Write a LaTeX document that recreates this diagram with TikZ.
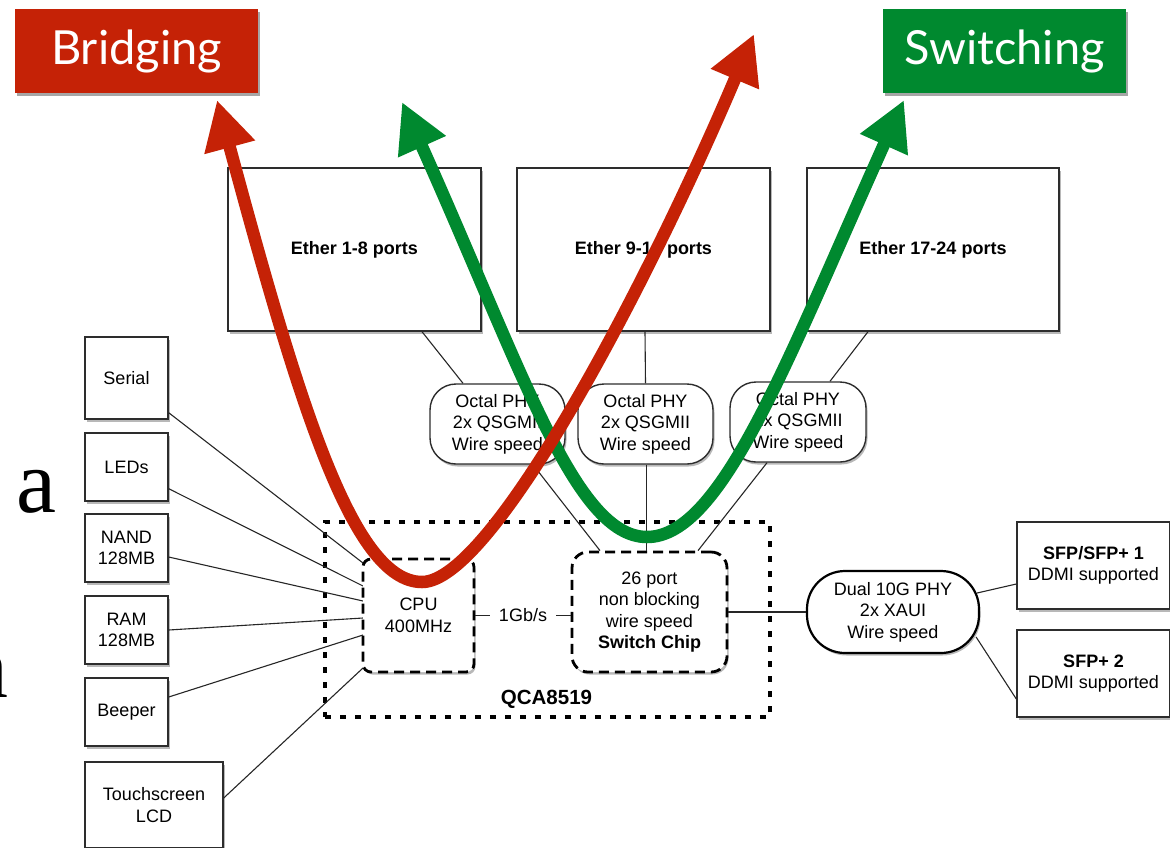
\documentclass[tikz,border=0pt]{standalone}
\usepackage{fontspec}
\setmainfont{Liberation Sans}
\newfontfamily\titlefont{Lato}
\newfontfamily\serifface{Liberation Serif}
\usetikzlibrary{arrows.meta,shadows}
\definecolor{bridgered}{RGB}{197,34,6}
\definecolor{switchgreen}{RGB}{0,137,47}
\definecolor{boxline}{RGB}{45,45,45}

\begin{document}
\begin{tikzpicture}[x=1pt,y=-1pt,
  every node/.style={font=\fontsize{18}{21.5}\selectfont, align=center, inner sep=0pt},
  softshadow/.style={drop shadow={shadow xshift=1.5pt, shadow yshift=-2.5pt, opacity=0.28, fill=black}},
  plainbox/.style={draw=boxline, line width=1.4pt, fill=white, softshadow},
  phybox/.style={plainbox, rounded corners=26pt, minimum width=135pt, minimum height=80pt},
  sidebox/.style={plainbox, minimum width=83pt},
  etherbox/.style={plainbox, minimum width=253pt, minimum height=163pt, font=\fontsize{18}{21}\selectfont\bfseries},
  sfpbox/.style={plainbox, minimum width=153pt, minimum height=87pt},
  dashbox/.style={draw=black, line width=2.8pt, dash pattern=on 10pt off 6pt, fill=white, softshadow},
  chipframe/.style={draw=black, line width=3.6pt, dash pattern=on 6pt off 9pt},
  wire/.style={draw=black!85, line width=1.1pt},
  titlebox/.style={minimum width=243pt, minimum height=84pt, text=white,
    font=\titlefont\fontsize{47}{50}\selectfont,
    drop shadow={shadow xshift=2pt, shadow yshift=-3pt, opacity=0.35, fill=black}},
  bigarrow/.style={line width=12.5pt, line cap=butt,
    {Triangle[length=49pt,width=49pt]}-{Triangle[length=49pt,width=49pt]}},
  slidetext/.style={font=\serifface\fontsize{90}{90}\selectfont}
]
\useasboundingbox (0,0) rectangle (1170,847);

% fragments of slide text at the left edge
\node[slidetext, anchor=base west] (slidea) at (16,512) {a};
\node[slidetext, anchor=base west] (sliden) at (-37,697) {n};

% labels at the top
\node[titlebox, fill=bridgered] (bridging) at (136.5,51) {\raisebox{-2pt}{Bridging}};
\node[titlebox, fill=switchgreen] (switching) at (1004.5,51) {\raisebox{-2pt}{Switching}};

% chip package outline
\node[chipframe, minimum width=445pt, minimum height=195pt] (qca) at (547.5,619.5) {};
\node[font=\fontsize{20.5}{24}\selectfont\bfseries, anchor=base] (qcalabel) at (546.5,704) {QCA8519};

% Ethernet port groups
\node[etherbox] (e1) at (354.5,249.5) {Ether 1-8 ports};
\node[etherbox] (e2) at (643.5,249.5) {Ether 9-16 ports};
\node[etherbox, minimum width=252pt] (e3) at (933,249.5) {Ether 17-24 ports};

% PHYs
\node[phybox] (phy1) at (497.5,424) {Octal PHY\\2x QSGMII\\Wire speed};
\node[phybox] (phy2) at (645.5,424) {Octal PHY\\2x QSGMII\\Wire speed};
\node[phybox, minimum width=136pt] (phy3) at (798,422) {Octal PHY\\2x QSGMII\\Wire speed};

% peripherals on the left
\node[sidebox, minimum height=82pt] (serial) at (126.5,378) {Serial};
\node[sidebox, minimum height=68pt] (leds) at (126.5,467) {LEDs};
\node[sidebox, minimum height=68pt] (nand) at (126.5,548) {NAND\\128MB};
\node[sidebox, minimum height=68pt] (ram) at (126.5,630) {RAM\\128MB};
\node[sidebox, minimum height=68pt] (beeper) at (126.5,712) {Beeper};
\node[plainbox, minimum width=138pt, minimum height=86pt] (touch) at (154,805) {Touchscreen\\LCD};

% SFP cages
\node[sfpbox] (sfp1) at (1093.5,565.5) {\textbf{SFP/SFP+ 1}\\DDMI supported};
\node[sfpbox] (sfp2) at (1093.5,673.5) {\textbf{SFP+ 2}\\DDMI supported};

% 10G PHY
\node[draw=black, line width=2.2pt, fill=white, rounded corners=38pt,
      minimum width=172pt, minimum height=82pt, softshadow] (dphy) at (893,612)
      {Dual 10G PHY\\2x XAUI\\Wire speed};

% wiring: peripherals to CPU
\draw[wire] ([yshift=7pt]serial.south east) -- (363,563) coordinate (cpuserial);
\draw[wire] ([yshift=13pt]leds.south east) -- (363,586) coordinate (cpuleds);
\draw[wire] ([yshift=-9pt]nand.east) -- (363,601) coordinate (cpunand);
\draw[wire] (ram.east) -- (363,618) coordinate (cpuram);
\draw[wire] ([yshift=15pt]beeper.east) -- (363,635) coordinate (cpubeeper);
\draw[wire] ([yshift=7pt]touch.east) -- (363,668) coordinate (cputouch);

% wiring: ports to PHYs
\draw[wire] ([xshift=67.5pt]e1.south) -- ([xshift=-34.5pt]phy1.north);
\draw[wire] ([xshift=1.5pt]e2.south) -- (phy2.north);
\draw[wire] ([xshift=-65pt]e3.south) -- ([xshift=32pt]phy3.north);

% CPU and switch
\node[dashbox, rounded corners=8pt, minimum width=111pt, minimum height=113pt] (cpu) at (418.5,615.5) {CPU\\400MHz};
\node[dashbox, rounded corners=16pt, minimum width=155pt, minimum height=120pt] (sw) at (649.5,612)
  {26 port\\non blocking\\wire speed\\\textbf{Switch Chip}};

% wiring: PHYs to switch
\draw[wire] ([xshift=35.5pt]phy1.south) -- ([xshift=-49.5pt]sw.north);
\draw[wire] ([xshift=1pt]phy2.south) -- ([xshift=-3pt]sw.north);
\draw[wire] ([xshift=-31pt]phy3.south) -- ([xshift=48.5pt]sw.north);

% CPU to switch link
\draw[wire] (cpu.east) -- (cpu.east -| sw.west) node[midway, fill=white, inner xsep=9pt, inner ysep=2pt] (link) {1Gb/s};

% switch to 10G PHY to SFPs
\draw[wire] (sw.east) -- (dphy.west);
\draw[wire] ([shift={(-3pt,19pt)}]dphy.east) -- ([yshift=-18.5pt]sfp1.west);
\draw[wire] ([shift={(-4pt,-25pt)}]dphy.east) -- ([yshift=-25.5pt]sfp2.west);

% path turning points
\coordinate (gleft) at (402,102);
\coordinate (glow) at (647,537);
\coordinate (gright) at (904,100);
\coordinate (rleft) at (217,100);
\coordinate (rlow) at (422,582);
\coordinate (rright) at (754,34);

% switching path
\draw[bigarrow, switchgreen] (gleft) .. controls (523,372) and (575,537) .. (glow)
  .. controls (722,537) and (787,360) .. (gright);

% bridging path
\draw[bigarrow, bridgered] (rleft) .. controls (298,400) and (352,582) .. (rlow)
  .. controls (492,582) and (648,284) .. (rright);
\end{tikzpicture}
\end{document}
